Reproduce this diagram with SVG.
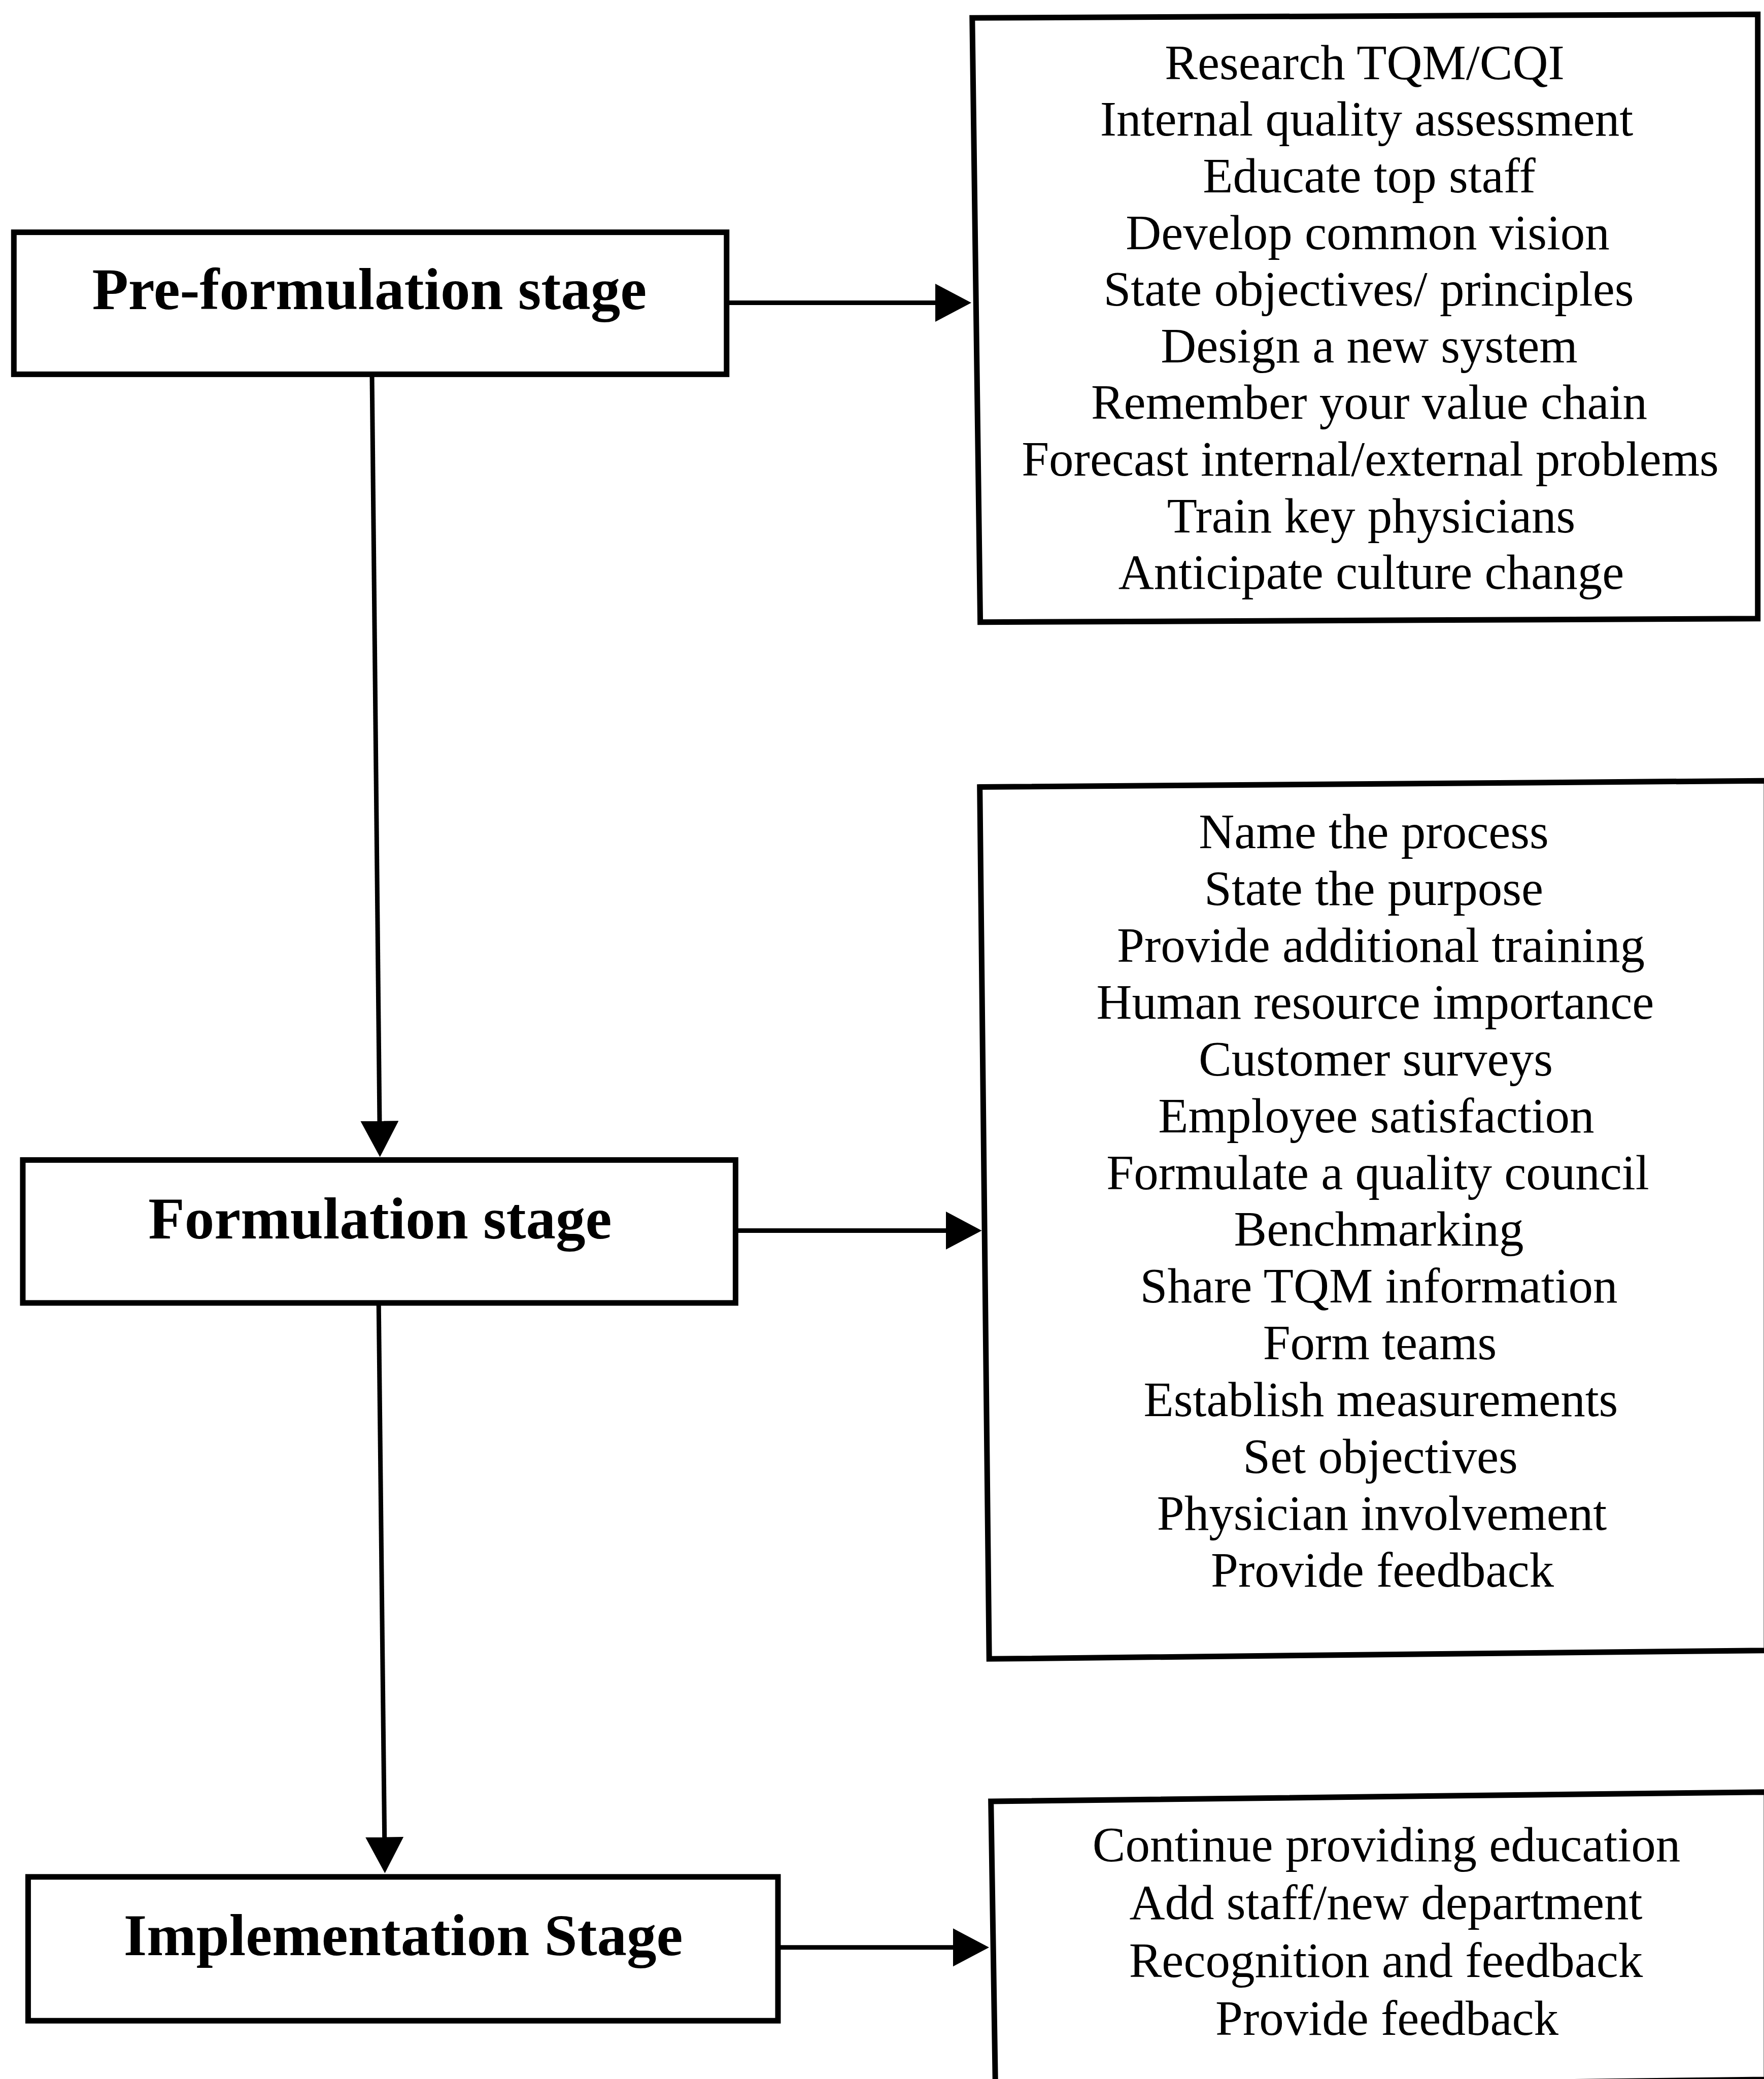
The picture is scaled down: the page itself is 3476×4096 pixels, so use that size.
<svg xmlns="http://www.w3.org/2000/svg" width="3476" height="4096" viewBox="0 0 3476 4096">
<style>
.box{fill:#fff;stroke:#000;stroke-width:11;stroke-linejoin:miter}
.stage{font-family:"Liberation Serif","Times New Roman",serif;font-weight:bold;font-size:117px;text-anchor:middle;fill:#000}
.item{font-family:"Liberation Serif","Times New Roman",serif;font-size:97px;text-anchor:middle;fill:#000}
.conn{stroke:#000;stroke-width:9;fill:none}
</style>
<defs>
<marker id="ah" markerUnits="userSpaceOnUse" markerWidth="80" markerHeight="80" refX="2" refY="37.5" orient="auto" viewBox="0 0 80 80">
<path d="M0,0 L71,37.5 L0,75 Z" fill="#000"/>
</marker>
</defs>
<rect width="3476" height="4096" fill="#fff"/>
<g id="pre-formulation">
<rect class="box" x="27.3" y="457.6" width="1404.5" height="279.8"/>
<text class="stage" x="727.8" y="609">Pre-formulation stage</text>
</g>
<g id="formulation">
<rect class="box" x="44.9" y="2285.4" width="1404.5" height="281.6"/>
<text class="stage" x="748.9" y="2440">Formulation stage</text>
</g>
<g id="implementation">
<rect class="box" x="55.4" y="3697.8" width="1477.6" height="283.4"/>
<text class="stage" x="794.6" y="3852">Implementation Stage</text>
</g>
<g id="pre-formulation-items">
<polygon class="box" points="1915.8,35.2 3463.7,28.2 3463.7,1218.8 1931.6,1225.8"/>
<text class="item" x="2689" y="155.8">Research TQM/CQI</text>
<text class="item" x="2693" y="267.4">Internal quality assessment</text>
<text class="item" x="2698" y="379">Educate top staff</text>
<text class="item" x="2695" y="490.6">Develop common vision</text>
<text class="item" x="2697" y="602.2">State objectives/ principles</text>
<text class="item" x="2698" y="713.8">Design a new system</text>
<text class="item" x="2698" y="825.4">Remember your value chain</text>
<text class="item" x="2700" y="937">Forecast internal/external problems</text>
<text class="item" x="2702" y="1048.6">Train key physicians</text>
<text class="item" x="2702" y="1160.2">Anticipate culture change</text>
</g>
<g id="formulation-items">
<polygon class="box" points="1930.7,1550.6 3481,1538.2 3481,3251.6 1949.2,3268.3"/>
<text class="item" x="2707" y="1671.1">Name the process</text>
<text class="item" x="2707" y="1783">State the purpose</text>
<text class="item" x="2721" y="1894.9">Provide additional training</text>
<text class="item" x="2710" y="2006.8">Human resource importance</text>
<text class="item" x="2711" y="2118.7">Customer surveys</text>
<text class="item" x="2712" y="2230.6">Employee satisfaction</text>
<text class="item" x="2715" y="2342.5">Formulate a quality council</text>
<text class="item" x="2717" y="2454.4">Benchmarking</text>
<text class="item" x="2717" y="2566.3">Share TQM information</text>
<text class="item" x="2719" y="2678.2">Form teams</text>
<text class="item" x="2721" y="2790.1">Establish measurements</text>
<text class="item" x="2720" y="2902">Set objectives</text>
<text class="item" x="2723" y="3013.9">Physician involvement</text>
<text class="item" x="2724" y="3125.8">Provide feedback</text>
</g>
<g id="implementation-items">
<polygon class="box" points="1952.7,3549 3481,3530.6 3481,4097 1961.5,4115"/>
<text class="item" x="2732" y="3667">Continue providing education</text>
<text class="item" x="2731" y="3781">Add staff/new department</text>
<text class="item" x="2731" y="3895">Recognition and feedback</text>
<text class="item" x="2733" y="4009">Provide feedback</text>
</g>
<g id="connectors">
<line class="conn" x1="733" y1="737.4" x2="748" y2="2210.6" marker-end="url(#ah)"/>
<line class="conn" x1="746.2" y1="2567" x2="757.7" y2="3621.5" marker-end="url(#ah)"/>
<line class="conn" x1="1431.8" y1="596.6" x2="1845" y2="596.6" marker-end="url(#ah)"/>
<line class="conn" x1="1449.4" y1="2424.4" x2="1865.6" y2="2424.4" marker-end="url(#ah)"/>
<line class="conn" x1="1533" y1="3836.8" x2="1880" y2="3836.8" marker-end="url(#ah)"/>
</g>
</svg>
